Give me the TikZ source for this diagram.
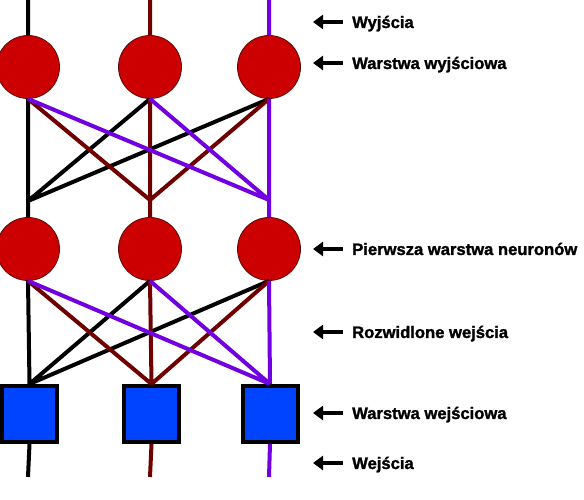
\documentclass[tikz,border=0pt]{standalone}
\usepackage{fontspec}
\setmainfont{Liberation Sans}
\newfontfamily\labfont[FakeBold=1.5]{Liberation Sans Bold}
\usetikzlibrary{arrows.meta}

\definecolor{neuronred}{RGB}{204,0,0}
\definecolor{neuronedge}{RGB}{90,10,10}
\definecolor{inblue}{RGB}{0,68,255}
\definecolor{wmaroon}{RGB}{112,0,0}
\definecolor{wpurple}{RGB}{112,0,224}

\tikzset{
	neuron/.style={circle, fill=neuronred, draw=neuronedge, line width=0.8bp, minimum size=63bp, inner sep=0pt},
	inbox/.style={rectangle, fill=inblue, draw=black, line width=4bp, minimum width=55bp, minimum height=56bp, inner sep=0pt},
	wire/.style={line width=4bp},
	lab/.style={anchor=base west, inner sep=0pt, font=\fontsize{16.6bp}{19bp}\labfont},
	pointer/.style={line width=4bp, -{Triangle[length=10bp,width=14bp]}}
}

\begin{document}
\begin{tikzpicture}[x=1bp,y=1bp]
	\useasboundingbox (0,0) rectangle (584,500);

	% wire ends and forks
	\coordinate (top1) at (28,500);
	\coordinate (top2) at (150,500);
	\coordinate (top3) at (269,500);
	\coordinate (mid1) at (28,299);
	\coordinate (mid2) at (150,300);
	\coordinate (mid3) at (269,300);
	\coordinate (bot1) at (28,23);
	\coordinate (bot2) at (150,23);
	\coordinate (bot3) at (269,23);

	% layers
	\node[neuron] (out1) at (28,433) {};
	\node[neuron] (out2) at (150,433) {};
	\node[neuron] (out3) at (269,433) {};
	\node[neuron] (hid1) at (28,251) {};
	\node[neuron] (hid2) at (150,251) {};
	\node[neuron] (hid3) at (269,251) {};
	\node[inbox] (in1) at (29.5,86) {};
	\node[inbox] (in2) at (151.5,86) {};
	\node[inbox] (in3) at (270,86) {};

	% connections
	\draw[wire, black] (top1) -- (out1.north) (mid1) -- (hid1.north) (in1.south) -- (bot1);
	\draw[wire, wmaroon] (top2) -- (out2.north) (mid2) -- (hid2.north) (in2.south) -- (bot2);
	\draw[wire, wpurple] (top3) -- (out3.north) (mid3) -- (hid3.north) (in3.south) -- (bot3);

	\draw[wire, black] (out1.south) -- (mid1) (out2.south) -- (mid1) (out3.south) -- (mid1);
	\draw[wire, wmaroon] (out1.south) -- (mid2) (out2.south) -- (mid2) (out3.south) -- (mid2);
	\draw[wire, wpurple] (out1.south) -- (mid3) (out2.south) -- (mid3) (out3.south) -- (mid3);

	\draw[wire, black] (hid1.south) -- (in1.north) (hid2.south) -- (in1.north) (hid3.south) -- (in1.north);
	\draw[wire, wmaroon] (hid1.south) -- (in2.north) (hid2.south) -- (in2.north) (hid3.south) -- (in2.north);
	\draw[wire, wpurple] (hid1.south) -- (in3.north) (hid2.south) -- (in3.north) (hid3.south) -- (in3.north);

	% labels
	\node[lab] (wyj) at (352,472) {Wyjścia};
	\node[lab] (wwyj) at (352,431) {Warstwa wyjściowa};
	\node[lab] (pierw) at (352,245) {Pierwsza warstwa neuronów};
	\node[lab] (rozw) at (352,162) {Rozwidlone wejścia};
	\node[lab] (wwej) at (352,81) {Warstwa wejściowa};
	\node[lab] (wej) at (352,31) {Wejścia};

	\draw[pointer] ([shift={(-9,6)}]wyj.base west) -- ([shift={(-39,6)}]wyj.base west);
	\draw[pointer] ([shift={(-9,6)}]wwyj.base west) -- ([shift={(-39,6)}]wwyj.base west);
	\draw[pointer] ([shift={(-9,6)}]pierw.base west) -- ([shift={(-39,6)}]pierw.base west);
	\draw[pointer] ([shift={(-9,6)}]rozw.base west) -- ([shift={(-39,6)}]rozw.base west);
	\draw[pointer] ([shift={(-9,6)}]wwej.base west) -- ([shift={(-39,6)}]wwej.base west);
	\draw[pointer] ([shift={(-9,6)}]wej.base west) -- ([shift={(-39,6)}]wej.base west);
\end{tikzpicture}
\end{document}
